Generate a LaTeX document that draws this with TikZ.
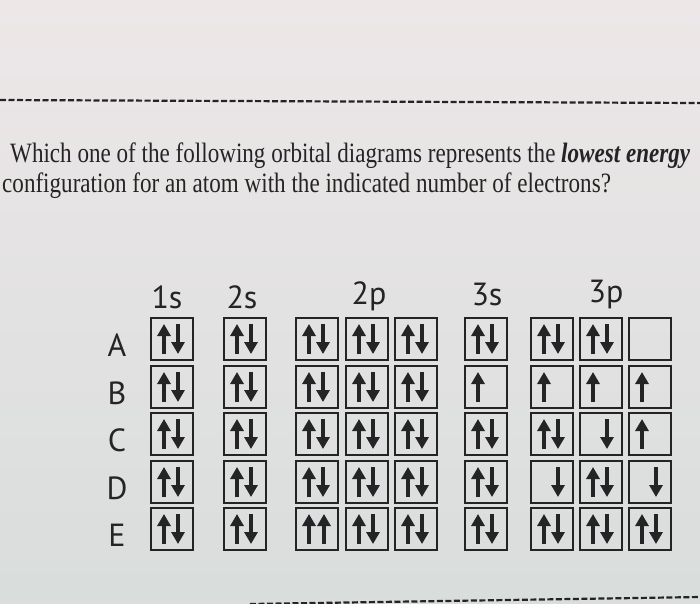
\documentclass[tikz,border=0pt]{standalone}
\usepackage{fontspec}
\usepackage{xcolor}
\usepackage{tikz}
\usetikzlibrary{arrows.meta}
\newfontfamily\qfont{Liberation Serif}
\newfontfamily\lfont{PT Sans}
\definecolor{ink}{RGB}{36,36,38}
\definecolor{bgtop}{RGB}{237,231,232}
\definecolor{bgbot}{RGB}{217,221,220}

\begin{document}
\begin{tikzpicture}
  [
    x=1pt, y=-1pt,
    orb/.style={draw=ink, line width=2pt, minimum size=42pt, inner sep=0pt},
    el/.style={draw=ink, line width=4.3pt, -{Triangle[width=13pt,length=12pt]}},
    ou/.style={path picture={
        \draw[el] ([shift={(-8,15)}]path picture bounding box.center) -- ++(0,-30);}},
    od/.style={path picture={
        \draw[el] ([shift={(6,-15)}]path picture bounding box.center) -- ++(0,30);}},
    op/.style={path picture={
        \draw[el] ([shift={(-8,15)}]path picture bounding box.center) -- ++(0,-30);
        \draw[el] ([shift={(6,-15)}]path picture bounding box.center) -- ++(0,30);}},
    ot/.style={path picture={
        \draw[el] ([shift={(-8,15)}]path picture bounding box.center) -- ++(0,-30);
        \draw[el] ([shift={(7,15)}]path picture bounding box.center) -- ++(0,-30);}},
    oe/.style={},
    lbl/.style={text=ink, inner sep=0pt, font=\lfont\fontsize{32pt}{38pt}\selectfont},
    qtext/.style={text=ink, inner sep=0pt, anchor=base west,
      font=\qfont\fontsize{28pt}{34pt}\selectfont},
    dashline/.style={draw=ink, line width=2.2pt, dash pattern=on 6pt off 2.5pt}
  ]
  \useasboundingbox (0,0) rectangle (700,603);
  \fill[top color=bgtop, bottom color=bgbot] (0,0) rectangle (700,603);

  \draw[dashline] (0,100) -- (700,103);
  \draw[dashline] (250,604) -- (700,597);

  \node (q1) at (10,162) [qtext] {\scalebox{0.825}[1]{Which one of the following
    orbital diagrams represents the \textbf{\textit{lowest energy}}}};
  \node (q2) at (2,192) [qtext] {\scalebox{0.825}[1]{configuration for an atom
    with the indicated number of electrons?}};

  \node (h1s) at (167,297) [lbl] {1s};
  \node (h2s) at (242,297) [lbl] {2s};
  \node (h2p) at (369,296) [lbl] {2p};
  \node (h3s) at (487,294) [lbl] {3s};
  \node (h3p) at (606,294) [lbl] {3p};

  \foreach \r/\y/\cfg in {A/339/{op,op,op,op,op,op,op,op,oe},
                          B/387/{op,op,op,op,op,ou,ou,ou,ou},
                          C/434/{op,op,op,op,op,op,op,od,ou},
                          D/482/{op,op,op,op,op,op,od,op,od},
                          E/529/{op,op,ot,op,op,op,op,op,op}} {
    \node (lbl\r) at (117,\y+6) [lbl] {\r};
    \foreach \c [count=\i] in \cfg {
      \pgfmathsetmacro\x{{172,245,317,367,416,486,552,601,650}[\i-1]}
      \node (\r\i) at (\x,\y) [orb, \c] {};
    }
  }
\end{tikzpicture}
\end{document}
